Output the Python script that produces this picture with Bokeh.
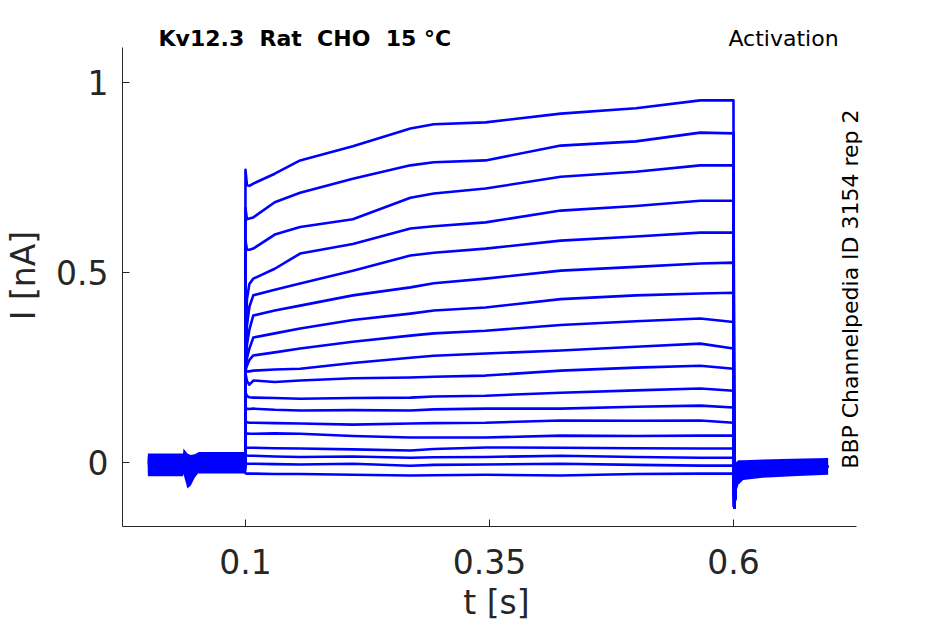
import math
from bokeh.plotting import figure
from bokeh.models import FixedTicker, Label, Range1d
from bokeh.embed import file_html
from bokeh.resources import INLINE

# ---------------- data ----------------
# time grid of the depolarising step (s)
t_step = [0.1, 0.1015, 0.104, 0.108, 0.13, 0.156, 0.21, 0.269, 0.293, 0.346, 0.423, 0.5, 0.566, 0.6]

# current (nA) of each sweep on t_step, top sweep first
I_step = [
    [0.770, 0.730, 0.728, 0.734, 0.760, 0.795, 0.832, 0.879, 0.890, 0.895, 0.918, 0.932, 0.953, 0.953],
    [0.670, 0.640, 0.642, 0.645, 0.685, 0.710, 0.747, 0.782, 0.790, 0.795, 0.834, 0.845, 0.868, 0.866],
    [0.585, 0.560, 0.560, 0.563, 0.600, 0.620, 0.640, 0.697, 0.708, 0.721, 0.752, 0.765, 0.782, 0.782],
    [0.300, 0.430, 0.470, 0.484, 0.510, 0.550, 0.575, 0.616, 0.622, 0.632, 0.663, 0.675, 0.689, 0.689],
    [0.260, 0.360, 0.410, 0.440, 0.455, 0.471, 0.505, 0.545, 0.552, 0.563, 0.584, 0.595, 0.605, 0.605],
    [0.250, 0.310, 0.350, 0.387, 0.400, 0.413, 0.440, 0.461, 0.472, 0.484, 0.505, 0.515, 0.524, 0.526],
    [0.245, 0.275, 0.300, 0.329, 0.340, 0.353, 0.375, 0.392, 0.400, 0.408, 0.430, 0.440, 0.445, 0.447],
    [0.242, 0.255, 0.270, 0.282, 0.290, 0.300, 0.318, 0.334, 0.340, 0.347, 0.362, 0.372, 0.379, 0.370],
    [0.240, 0.240, 0.240, 0.242, 0.245, 0.247, 0.262, 0.276, 0.281, 0.287, 0.295, 0.305, 0.313, 0.300],
    [0.235, 0.215, 0.205, 0.216, 0.212, 0.216, 0.222, 0.224, 0.226, 0.229, 0.242, 0.250, 0.255, 0.247],
    [0.185, 0.175, 0.172, 0.171, 0.170, 0.168, 0.170, 0.171, 0.174, 0.176, 0.184, 0.190, 0.195, 0.189],
    [0.145, 0.142, 0.141, 0.142, 0.139, 0.137, 0.138, 0.137, 0.140, 0.142, 0.142, 0.147, 0.150, 0.145],
    [0.108, 0.106, 0.105, 0.105, 0.104, 0.103, 0.100, 0.103, 0.104, 0.105, 0.111, 0.110, 0.111, 0.105],
    [0.078, 0.077, 0.076, 0.076, 0.077, 0.076, 0.070, 0.066, 0.066, 0.066, 0.071, 0.070, 0.071, 0.071],
    [0.040, 0.039, 0.039, 0.039, 0.038, 0.037, 0.035, 0.032, 0.036, 0.040, 0.039, 0.038, 0.037, 0.037],
    [0.020, 0.019, 0.018, 0.018, 0.016, 0.015, 0.016, 0.013, 0.014, 0.015, 0.018, 0.015, 0.013, 0.013],
    [-0.002, -0.003, -0.003, -0.003, -0.004, -0.005, -0.003, -0.008, -0.006, -0.005, -0.003, -0.006, -0.008, -0.008],
    [-0.028, -0.029, -0.029, -0.029, -0.030, -0.030, -0.032, -0.034, -0.033, -0.032, -0.034, -0.030, -0.029, -0.029],
]

# holding level before the step (nA), one per sweep
I_hold = [0.005, 0.0, -0.005, 0.01, 0.0, -0.01, 0.005, 0.015, -0.005, 0.0, 0.01, -0.015, 0.005, -0.02, 0.0, 0.012, -0.008, -0.025]
t_hold = [0.0, 0.0998]

# tail after the step (shared shape)
t_tail = [0.6008, 0.6025, 0.606, 0.615, 0.697]
I_tail = [-0.118, -0.055, -0.030, -0.018, -0.010]

# noise envelope of the baseline before the step
t_pre_band = [0.0, 0.036, 0.0365, 0.0405, 0.044, 0.048, 0.051, 0.052, 0.1]
I_pre_hi = [0.024, 0.024, 0.037, 0.024, 0.020, 0.022, 0.026, 0.028, 0.028]
I_pre_lo = [-0.036, -0.036, -0.030, -0.068, -0.060, -0.040, -0.030, -0.022, -0.022]

# noise envelope after the step
t_post_band = [0.6005, 0.602, 0.605, 0.61, 0.63, 0.66, 0.697]
I_post_hi = [-0.030, 0.000, 0.006, 0.006, 0.008, 0.010, 0.012]
I_post_lo = [-0.121, -0.085, -0.058, -0.046, -0.040, -0.036, -0.032]

x_axis_span = (-0.026, 0.726)
y_axis_span = (-0.168, 1.092)
x_ticks = [0.1, 0.35, 0.6]
x_tick_labels = ["0.1", "0.35", "0.6"]
y_ticks = [0, 0.5, 1]
y_tick_labels = ["0", "0.5", "1"]

NB = "\u00a0"
title_left = f"Kv12.3 {NB}Rat {NB}CHO {NB}15 °C"
title_right = "Activation"
side_note = "BBP Channelpedia ID 3154 rep 2"

# ---------------- figure ----------------
BLUE = "#0000ff"
DARK = "#262626"
FONT = "DejaVu Sans"

p = figure(frame_width=748, frame_height=502, output_backend="svg", toolbar_location=None,
           x_range=Range1d(x_axis_span[0], 0.7404), y_range=Range1d(y_axis_span[0], 1.1525),
           min_border_left=122, min_border_right=60, min_border_top=24, min_border_bottom=90)
p.outline_line_color = None
p.background_fill_color = "white"
p.border_fill_color = "white"
p.xgrid.visible = False
p.ygrid.visible = False

xs = []
ys = []
for k in range(len(I_step)):
    xs.append(t_hold + t_step + t_tail)
    ys.append([I_hold[k], I_hold[k]] + I_step[k] + I_tail)

p.varea(x=t_pre_band, y1=I_pre_lo, y2=I_pre_hi, fill_color=BLUE)
p.varea(x=t_post_band, y1=I_post_lo, y2=I_post_hi, fill_color=BLUE)
p.multi_line(xs=xs, ys=ys, line_color=BLUE, line_width=2.6, line_join="round")

for ax in (p.xaxis[0], p.yaxis[0]):
    ax.axis_line_color = DARK
    ax.axis_line_width = 1
    ax.major_tick_line_color = DARK
    ax.major_tick_in = 7
    ax.major_tick_out = 0
    ax.minor_tick_line_color = None
    ax.major_label_text_font = FONT
    ax.major_label_text_font_size = "33px"
    ax.major_label_text_color = DARK
    ax.axis_label_text_font = FONT
    ax.axis_label_text_font_size = "33px"
    ax.axis_label_text_font_style = "normal"
    ax.axis_label_text_color = DARK

p.xaxis.bounds = x_axis_span
p.yaxis.bounds = y_axis_span
p.xaxis.ticker = FixedTicker(ticks=x_ticks)
p.xaxis.major_label_overrides = {v: s for v, s in zip(x_ticks, x_tick_labels)}
p.yaxis.ticker = FixedTicker(ticks=y_ticks)
p.yaxis.major_label_overrides = {v: s for v, s in zip(y_ticks, y_tick_labels)}
p.xaxis.axis_label = "t [s]"
p.yaxis.axis_label = "I [nA]"
p.xaxis.major_label_standoff = 22
p.xaxis.axis_label_standoff = 6
p.yaxis.major_label_standoff = 14
p.yaxis.axis_label_standoff = 10

p.add_layout(Label(x=0.0109, y=1.115, text=title_left, text_font=FONT, text_font_size="22px",
                   text_font_style="bold", text_color="black", text_baseline="alphabetic", text_align="left"))
p.add_layout(Label(x=0.7077, y=1.115, text=title_right, text_font=FONT, text_font_size="22px",
                   text_color="black", text_baseline="alphabetic", text_align="right"))
p.add_layout(Label(x=0.7195, y=-0.016, text=side_note, text_font=FONT, text_font_size="22px",
                   text_color="black", angle=math.pi / 2, text_baseline="alphabetic", text_align="left"))

open("out.html", "w").write(file_html(p, INLINE))
